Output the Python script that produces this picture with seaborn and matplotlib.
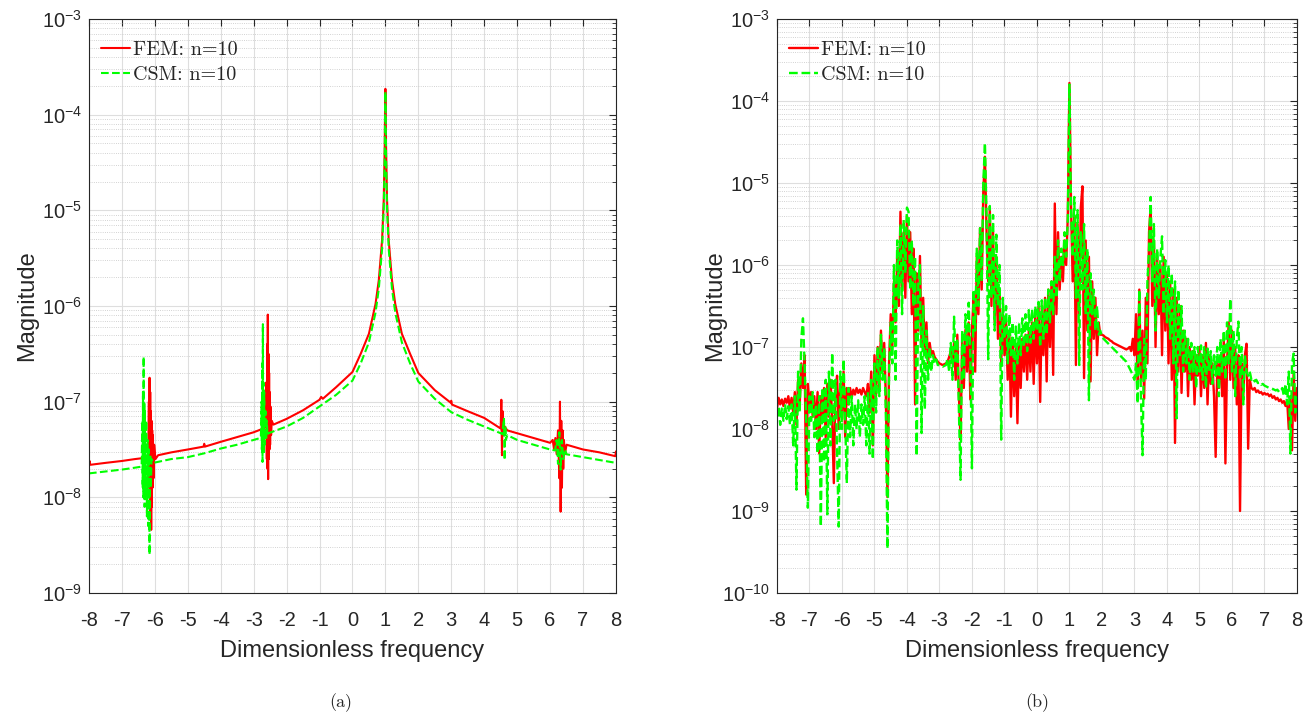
import numpy as np
import matplotlib.pyplot as plt
import seaborn as sns
from matplotlib.ticker import LogLocator, NullFormatter

# ---- panel (a): values, stored as log10(magnitude)
fem_a_x = [-8.00, -7.98, -7.96, -7.50, -7.00, -6.60, -6.36, -6.20,
           -6.18, -6.17, -6.16, -6.15, -6.14, -6.13, -6.12, -6.11, -6.10, -6.09, -6.08, -6.07, -6.06, -6.04, -6.02, -5.98,
           -5.90, -5.50, -5.00, -4.52, -4.50, -4.48, -4.00, -3.50, -3.00, -2.70, -2.64,
           -2.62, -2.60, -2.59, -2.58, -2.57, -2.56, -2.55, -2.54, -2.53, -2.52, -2.51, -2.50, -2.49, -2.47, -2.45,
           -2.40, -2.20, -2.00, -1.50, -1.00, -0.95, -0.90, -0.50,
           0.00, 0.25, 0.50, 0.70, 0.80, 0.90, 0.95, 0.98, 0.99, 1.00, 1.01, 1.02, 1.05, 1.10, 1.20, 1.30, 1.50, 1.75, 2.00,
           2.50, 2.98, 3.00, 3.02, 3.50, 4.00, 4.45, 4.50, 4.52, 4.54, 4.56, 4.58, 4.60, 4.70, 5.00, 5.50, 6.00,
           6.08, 6.12, 6.16, 6.20, 6.24, 6.28, 6.30, 6.32, 6.34, 6.36, 6.38, 6.40, 6.42, 6.45, 6.50,
           6.60, 7.00, 7.50, 7.98, 8.00]
fem_a_log = [-7.66, -7.62, -7.66, -7.64, -7.62, -7.60, -7.59, -7.58,
             -7.00, -7.90, -6.75, -8.00, -6.90, -8.20, -7.10, -8.34, -7.20, -8.10, -7.30, -7.90, -7.35, -7.80, -7.45, -7.60,
             -7.56, -7.53, -7.50, -7.47, -7.44, -7.47, -7.42, -7.37, -7.32, -7.28, -7.26,
             -6.80, -7.60, -6.40, -7.70, -6.09, -7.81, -6.50, -7.60, -6.70, -7.50, -6.90, -7.45, -7.05, -7.35, -7.20,
             -7.24, -7.21, -7.18, -7.09, -6.98, -6.95, -6.97, -6.85,
             -6.69, -6.50, -6.29, -5.98, -5.73, -5.31, -4.89, -4.33, -3.95, -3.73, -3.95, -4.33, -4.89, -5.31, -5.73, -5.98, -6.29, -6.50, -6.70,
             -6.88, -7.01, -6.99, -7.03, -7.10, -7.17, -7.27, -7.28, -6.98, -7.56, -7.10, -7.35, -7.25, -7.30, -7.33, -7.38, -7.43,
             -7.40, -7.50, -7.38, -7.55, -7.30, -7.80, -7.00, -8.15, -7.20, -7.90, -7.30, -7.70, -7.40, -7.55, -7.45,
             -7.46, -7.50, -7.53, -7.57, -7.52]

csm_a_x = [-8.00, -7.00, -6.60, -6.42, -6.40, -6.38, -6.37, -6.36, -6.35, -6.34, -6.33, -6.32, -6.31, -6.30, -6.28,
           -6.26, -6.24, -6.22, -6.20, -6.18, -6.16, -6.14, -6.12, -6.10, -6.05,
           -5.50, -5.00, -4.50, -4.00, -3.50, -3.00, -2.80,
           -2.78, -2.76, -2.75, -2.74, -2.73, -2.72, -2.71, -2.70, -2.69, -2.68, -2.66, -2.64, -2.62, -2.60, -2.58, -2.55,
           -2.00, -1.50, -1.00, -0.50,
           0.00, 0.25, 0.50, 0.70, 0.80, 0.90, 0.95, 0.98, 0.99, 1.00, 1.01, 1.02, 1.05, 1.10, 1.20, 1.30, 1.50, 1.75, 2.00,
           2.50, 3.00, 3.50, 4.00, 4.50, 4.55, 4.60, 4.62, 4.64, 4.66, 4.70, 5.00, 5.50, 6.00, 6.15,
           6.20, 6.24, 6.28, 6.32, 6.36, 6.40, 6.45, 6.50, 7.00, 7.50, 8.00]
csm_a_log = [-7.75, -7.71, -7.69, -7.68, -7.67, -7.20, -7.90, -6.90, -8.00, -6.53, -7.80, -7.00, -8.10, -7.10, -7.95,
             -7.20, -8.20, -7.40, -8.30, -7.50, -8.60, -7.55, -7.90, -7.60, -7.64,
             -7.60, -7.58, -7.54, -7.49, -7.45, -7.40, -7.38,
             -7.36, -7.00, -7.50, -6.60, -7.63, -6.19, -7.40, -6.80, -7.55, -6.90, -7.45, -7.10, -7.40, -7.20, -7.35, -7.33,
             -7.26, -7.17, -7.05, -6.93,
             -6.78, -6.60, -6.38, -6.07, -5.82, -5.40, -4.98, -4.42, -4.00, -3.76, -4.00, -4.42, -4.98, -5.40, -5.82, -6.07, -6.38, -6.60, -6.79,
             -6.97, -7.11, -7.19, -7.26, -7.33, -7.34, -7.17, -7.61, -7.25, -7.40, -7.35, -7.40, -7.45, -7.50, -7.51,
             -7.40, -7.65, -7.32, -7.71, -7.40, -7.60, -7.50, -7.55, -7.58, -7.61, -7.64]

# ---- panel (b): sampled every 0.05 from -8 to 8, one row per unit of frequency
freq_b = np.linspace(-8, 8, 321)
fem_b_log = [
    -7.75, -7.62, -7.70, -7.64, -7.72, -7.63, -7.68, -7.60, -7.75, -7.62, -7.80, -7.55, -7.95, -7.40, -7.70, -7.20, -7.50, -7.10, -8.80, -7.45,
    -7.70, -7.55, -7.85, -7.60, -8.00, -7.55, -8.30, -7.60, -7.90, -7.50, -8.10, -7.45, -7.85, -7.40, -7.90, -8.66, -7.55, -7.35, -8.00, -7.45,
    -7.80, -7.30, -8.10, -7.50, -7.70, -7.50, -7.62, -7.52, -7.58, -7.50, -7.56, -7.52, -7.58, -7.50, -7.55, -7.60, -7.45, -7.80, -7.30, -8.20,
    -7.10, -7.60, -7.00, -7.50, -6.80, -7.30, -6.95, -7.60, -8.83, -7.20, -6.60, -7.00, -6.20, -6.70, -5.90, -6.50, -5.35, -6.30, -5.60, -6.40,
    -5.40, -6.20, -5.60, -6.60, -5.80, -7.70, -6.10, -6.80, -5.89, -7.00, -6.40, -7.10, -6.70, -7.20, -6.95, -7.10, -7.05, -7.12, -7.15, -7.18,
    -7.20, -7.21, -7.22, -7.21, -7.20, -7.18, -7.12, -7.05, -7.20, -6.95, -7.40, -6.85, -7.60, -8.13, -6.90, -7.50, -6.79, -7.30, -6.70, -7.64,
    -6.80, -6.40, -7.30, -5.90, -6.60, -5.55, -6.30, -5.10, -4.68, -5.60, -6.20, -5.30, -6.50, -5.60, -6.70, -5.90, -6.90, -6.30, -7.20, -6.60,
    -7.10, -6.70, -7.40, -6.80, -7.85, -6.90, -7.60, -7.00, -7.93, -6.95, -7.50, -6.90, -7.30, -6.85, -7.40, -6.80, -7.30, -6.70, -7.45, -6.60,
    -7.20, -6.50, -7.67, -6.50, -7.10, -6.40, -7.42, -6.30, -7.00, -6.20, -7.34, -5.25, -6.60, -5.60, -6.30, -5.90, -6.20, -5.70, -6.00, -5.40,
    -3.78, -5.30, -6.20, -5.40, -7.22, -5.50, -6.60, -5.30, -5.04, -7.38, -5.70, -6.80, -5.90, -7.42, -6.20, -6.90, -6.40, -7.10, -6.70, -6.85,
    -6.85, -6.86, -6.88, -6.89, -6.90, -6.92, -6.93, -6.95, -6.96, -6.97, -6.98, -6.99, -7.00, -7.01, -7.02, -7.03, -7.02, -7.00, -7.05, -6.90,
    -7.10, -6.60, -7.50, -6.30, -7.40, -6.80, -7.63, -6.40, -7.20, -5.60, -5.29, -6.50, -5.70, -7.00, -5.90, -6.60, -6.00, -7.10, -5.90, -6.80,
    -6.10, -7.20, -6.20, -7.40, -6.30, -8.17, -6.40, -7.30, -6.50, -7.56, -6.80, -7.30, -6.90, -7.60, -7.00, -7.40, -7.05, -7.70, -7.10, -7.35,
    -7.00, -7.60, -7.10, -7.50, -6.95, -7.70, -7.10, -7.45, -7.20, -7.60, -8.34, -7.20, -7.50, -7.10, -7.60, -6.90, -8.42, -7.20, -6.70, -7.40,
    -6.80, -7.50, -7.00, -7.70, -7.10, -9.00, -7.20, -7.60, -7.10, -6.96, -8.24, -7.40, -7.50, -7.52, -7.50, -7.55, -7.53, -7.56, -7.55, -7.58,
    -7.56, -7.58, -7.57, -7.60, -7.58, -7.62, -7.60, -7.64, -7.62, -7.66, -7.64, -7.68, -7.66, -7.72, -7.65, -8.00, -7.60, -8.26, -7.30, -7.90,
    -7.50]
csm_b_log = [
    -7.85, -7.72, -7.95, -7.75, -7.90, -7.70, -7.88, -7.72, -7.95, -7.70, -8.20, -7.60, -8.74, -7.30, -7.80, -6.90, -6.65, -7.20, -7.90, -8.96,
    -7.60, -7.90, -7.55, -8.10, -7.70, -8.30, -7.60, -9.19, -7.50, -8.40, -7.40, -9.04, -7.30, -8.20, -7.07, -7.90, -7.40, -8.30, -9.19, -7.30,
    -8.00, -7.15, -7.90, -8.66, -7.50, -8.10, -7.60, -8.20, -7.70, -8.00, -7.65, -8.10, -7.70, -7.95, -7.60, -8.20, -7.55, -8.30, -7.40, -8.37,
    -7.20, -7.80, -7.00, -7.60, -6.85, -7.40, -7.00, -7.80, -9.46, -7.30, -6.70, -7.20, -6.00, -7.40, -5.70, -6.40, -5.50, -6.60, -5.45, -6.10,
    -5.30, -5.35, -6.30, -5.70, -6.50, -5.90, -8.33, -6.20, -6.00, -8.05, -6.50, -7.76, -6.80, -7.40, -7.00, -7.30, -7.10, -7.20, -7.15, -7.22,
    -7.22, -7.23, -7.24, -7.23, -7.22, -7.15, -7.30, -6.95, -7.40, -6.63, -7.20, -6.90, -7.80, -8.62, -6.80, -7.40, -6.60, -7.00, -6.46, -7.10,
    -8.48, -6.30, -6.80, -5.80, -6.50, -5.55, -6.20, -5.00, -4.51, -5.40, -7.15, -5.28, -6.40, -5.39, -6.80, -5.63, -6.50, -6.00, -8.13, -6.40,
    -6.90, -6.50, -7.20, -6.60, -7.10, -6.70, -7.40, -6.75, -7.20, -6.70, -7.10, -6.65, -7.00, -6.60, -7.05, -6.55, -6.95, -6.54, -6.90, -6.50,
    -6.80, -6.45, -7.00, -6.43, -6.90, -6.40, -6.85, -6.30, -6.70, -6.20, -6.60, -5.90, -6.40, -5.70, -6.20, -5.80, -6.00, -5.60, -5.90, -5.45,
    -3.80, -5.35, -5.90, -5.17, -6.40, -5.33, -7.22, -5.60, -6.30, -5.50, -6.60, -5.80, -7.65, -6.10, -6.60, -6.30, -6.80, -6.50, -6.85, -6.80,
    -6.88, -6.90, -6.92, -6.94, -6.96, -6.98, -7.00, -7.02, -7.04, -7.06, -7.08, -7.10, -7.12, -7.14, -7.16, -7.18, -7.22, -7.26, -7.30, -7.35,
    -7.40, -7.20, -7.69, -6.30, -7.60, -8.32, -6.90, -7.40, -6.20, -5.80, -5.17, -6.20, -5.50, -6.80, -5.80, -6.40, -5.90, -5.65, -6.60, -5.94,
    -6.70, -6.00, -6.90, -6.10, -7.20, -6.20, -7.87, -6.30, -7.10, -6.50, -7.30, -6.80, -7.20, -6.90, -7.40, -6.95, -7.30, -7.00, -7.50, -7.00,
    -7.30, -6.98, -7.40, -7.00, -7.50, -7.02, -7.30, -7.05, -7.45, -7.10, -7.35, -7.00, -7.60, -6.90, -7.30, -6.80, -7.40, -6.70, -7.20, -6.41,
    -7.30, -6.80, -7.60, -6.90, -6.69, -7.40, -7.00, -7.70, -7.10, -7.30, -7.35, -7.30, -7.40, -7.38, -7.42, -7.40, -7.44, -7.43, -7.46, -7.45,
    -7.47, -7.48, -7.49, -7.50, -7.50, -7.51, -7.52, -7.53, -7.52, -7.55, -7.54, -7.50, -7.60, -7.45, -7.70, -7.30, -8.30, -7.20, -7.08, -7.80,
    -7.60]

labels = ["FEM: n=10", "CSM: n=10"]
red, green = "#ff0000", "#00ff00"
ink = "#262626"

sns.set_style("white")
plt.rcParams['font.family'] = ['Liberation Sans', 'DejaVu Sans']
plt.rcParams['mathtext.fontset'] = 'custom'
plt.rcParams['mathtext.rm'] = 'Liberation Sans'
plt.rcParams['mathtext.default'] = 'regular'
plt.rcParams['axes.unicode_minus'] = False

fig = plt.figure(figsize=(13.1, 7.2), dpi=100)
ax1 = fig.add_axes([0.0679, 0.1764, 0.4023, 0.7972])
ax2 = fig.add_axes([0.5931, 0.1764, 0.3969, 0.7972])


def draw(ax, xf, yf, xc, yc, lw):
    sns.lineplot(x=xf, y=10 ** np.array(yf), ax=ax, color=red, lw=lw,
                 estimator=None, sort=False, label=labels[0])
    sns.lineplot(x=xc, y=10 ** np.array(yc), ax=ax, color=green, lw=lw,
                 linestyle='--', estimator=None, sort=False, label=labels[1])


def style(ax, ybottom):
    ax.set_yscale('log')
    ax.set_xlim(-8, 8)
    ax.set_ylim(ybottom, 1e-3)
    ax.set_xticks(range(-8, 9))
    ax.yaxis.set_major_locator(LogLocator(base=10, numticks=20))
    ax.yaxis.set_minor_locator(LogLocator(base=10, subs=np.arange(2, 10), numticks=20))
    ax.yaxis.set_minor_formatter(NullFormatter())
    ax.grid(which='major', color='#dedede', lw=0.8, ls='-')
    ax.grid(which='minor', axis='y', color='#c4c4c4', lw=0.6, ls=':')
    ax.set_axisbelow(True)
    ax.tick_params(which='both', direction='in', top=True, right=True,
                   colors=ink, labelcolor=ink)
    ax.tick_params(which='major', length=5, width=0.8, labelsize=14.5)
    ax.tick_params(which='minor', length=3, width=0.6)
    ax.tick_params(axis='x', pad=13)
    ax.tick_params(axis='y', pad=5)
    for s in ax.spines.values():
        s.set_color(ink)
        s.set_linewidth(0.8)
    ax.set_xlabel("Dimensionless frequency", fontsize=17, color=ink)
    ax.set_ylabel("Magnitude", fontsize=17, color=ink)
    ax.xaxis.set_label_coords(0.5, -0.082)
    ax.yaxis.set_label_coords(-0.097, 0.5)
    ax.legend(loc='upper left', bbox_to_anchor=(0.0, 0.983), frameon=False,
              prop={'family': 'cmr10', 'size': 14.5},
              handlelength=1.45, handletextpad=0.15, labelspacing=0.35,
              borderaxespad=0.3, borderpad=0.3)


draw(ax1, fem_a_x, fem_a_log, csm_a_x, csm_a_log, 1.5)
style(ax1, 1e-9)
draw(ax2, freq_b, fem_b_log, freq_b, csm_b_log, 1.7)
style(ax2, 1e-10)

fig.text(341 / 1310, 1 - 703 / 720, "(a)", family='cmr10', fontsize=13, ha='center', va='center')
fig.text(1037 / 1310, 1 - 703 / 720, "(b)", family='cmr10', fontsize=13, ha='center', va='center')

fig.savefig("out.png", dpi=100)
